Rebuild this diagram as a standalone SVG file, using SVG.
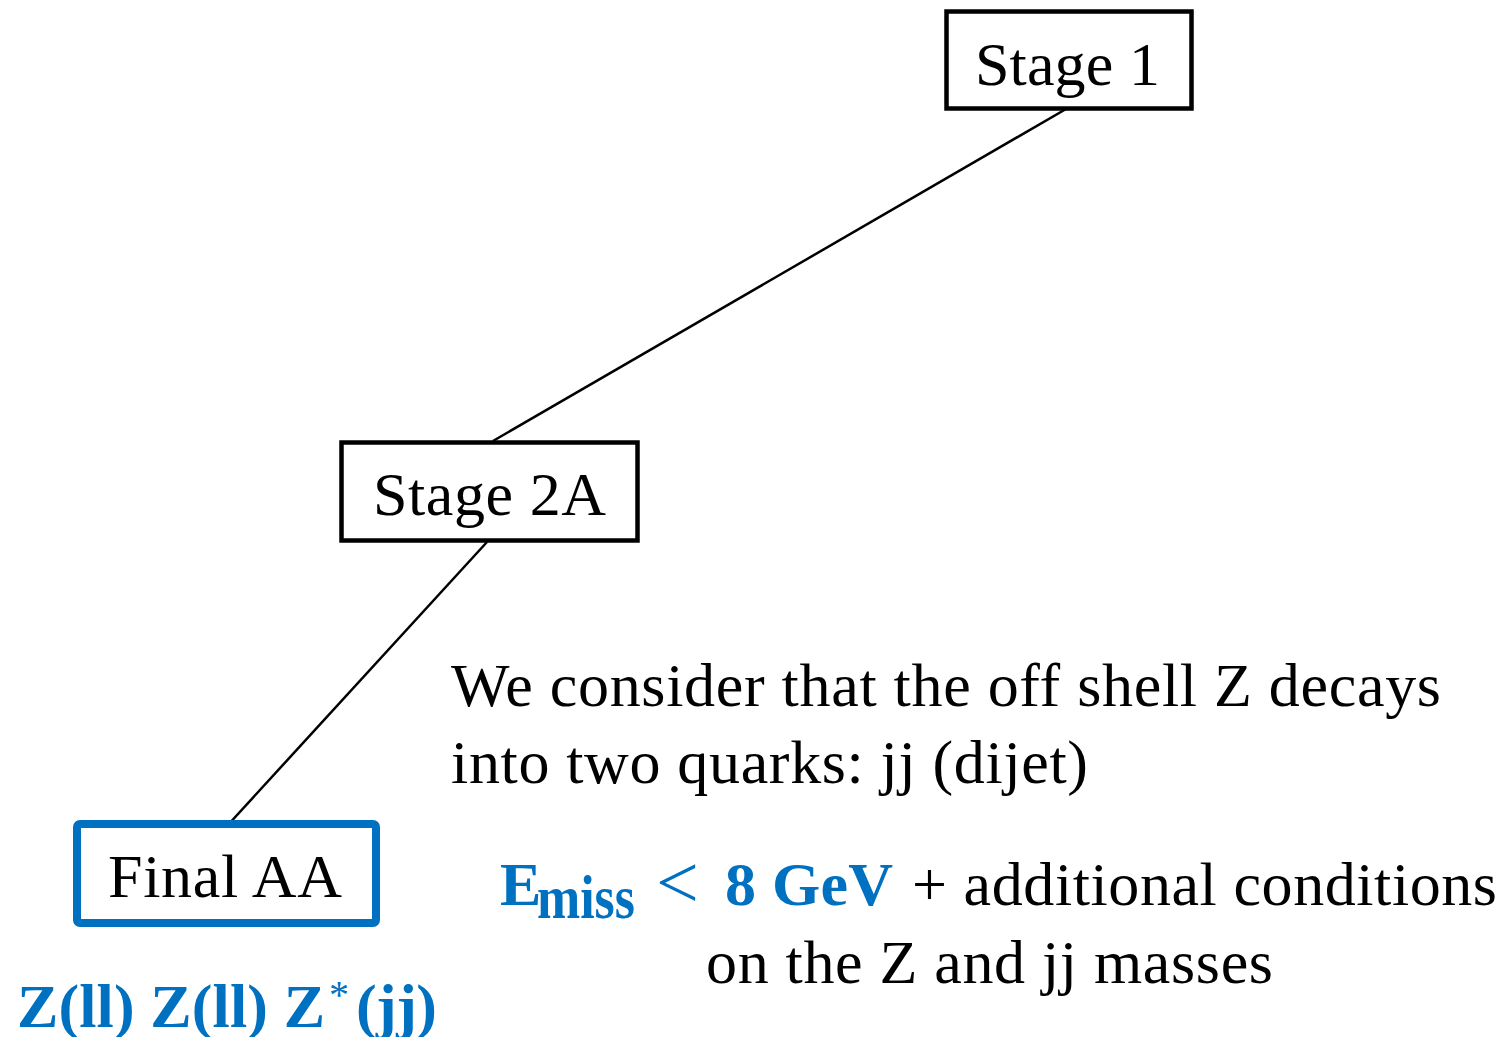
<svg xmlns="http://www.w3.org/2000/svg" width="1507" height="1037" viewBox="0 0 1507 1037">
<style>
.t{font-family:"Liberation Serif","Times New Roman",serif;font-size:62px;fill:#000}
.box{fill:#fff;stroke:#000;stroke-width:4.5}
.bbox{fill:#fff;stroke:#0070C0;stroke-width:8}
.b{font-family:"Liberation Serif","Times New Roman",serif;font-weight:bold;fill:#0070C0;font-size:62px}
.bl{font-family:"Liberation Serif","Times New Roman",serif;fill:#0070C0}
.conn{stroke:#000;stroke-width:2.5;fill:none}
</style>
<rect width="1507" height="1037" fill="#fff"/>
<g id="connectors">
<line class="conn" x1="1066" y1="109" x2="493" y2="441"/>
<line class="conn" x1="487" y1="542" x2="227" y2="826"/>
</g>
<g id="stage1">
<rect class="box" x="946.5" y="11.5" width="245" height="97"/>
<text class="t" x="975" y="85" textLength="185">Stage 1</text>
</g>
<g id="stage2a">
<rect class="box" x="341.5" y="442.5" width="296" height="98"/>
<text class="t" x="373" y="515" textLength="233">Stage 2A</text>
</g>
<g id="finalaa">
<rect class="bbox" x="77" y="824" width="299" height="99" rx="3"/>
<text class="t" x="108" y="897" textLength="234">Final AA</text>
</g>
<g id="final-label">
<text class="b" x="17" y="1027" textLength="308">Z(ll) Z(ll) Z</text>
<text class="bl" x="329" y="1008" font-size="40">*</text>
<text class="b" x="356" y="1027" textLength="81">(jj)</text>
</g>
<g id="note1">
<text class="t" x="451" y="706" textLength="990">We consider that the off shell Z decays</text>
<text class="t" x="451" y="783" textLength="637">into two quarks: jj (dijet)</text>
</g>
<g id="note2">
<text class="b" x="500" y="905">E</text>
<text class="b" x="537" y="918" font-size="48" textLength="98" lengthAdjust="spacingAndGlyphs">miss</text>
<text class="bl" x="656" y="908" font-size="76">&lt;</text>
<text class="b" x="725" y="905" textLength="168">8 GeV</text>
<text class="t" x="912" y="905" textLength="585">+ additional conditions</text>
<text class="t" x="706" y="983" textLength="567">on the Z and jj masses</text>
</g>
</svg>
